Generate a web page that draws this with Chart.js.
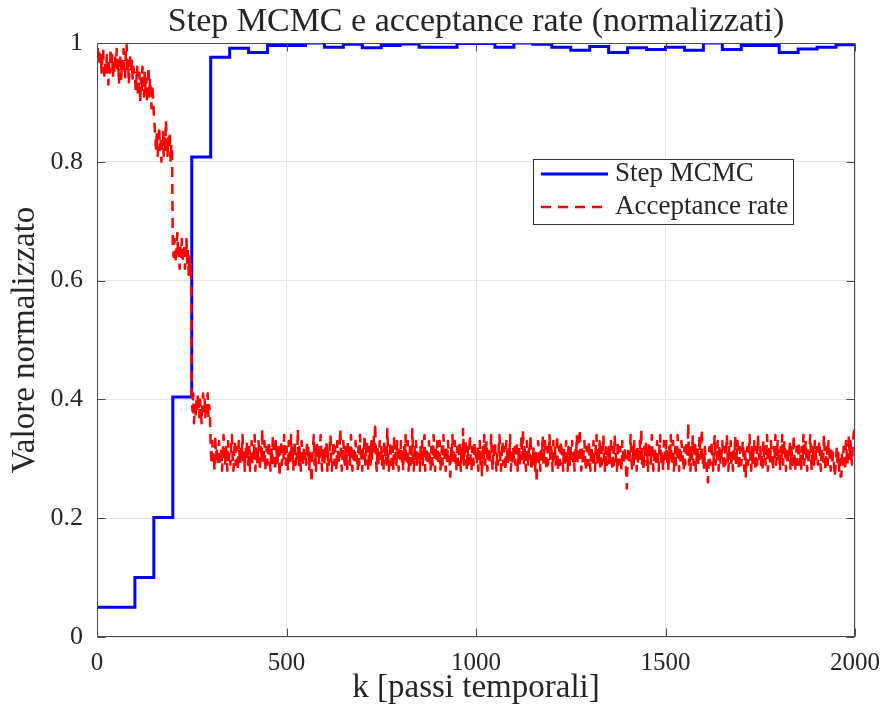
<!DOCTYPE html>
<html>
<head>
<meta charset="utf-8">
<script src="https://cdn.jsdelivr.net/npm/chart.js@4.4.1/dist/chart.umd.min.js"></script>
<style>
  html, body { margin: 0; padding: 0; background: #ffffff; }
  canvas { display: block; }
</style>
</head>
<body>
<canvas id="c" width="884" height="718"></canvas>
<script>
// ---------------- data ----------------
const chartTitle = 'Step MCMC e acceptance rate (normalizzati)';
const xAxisTitle = 'k [passi temporali]';
const yAxisTitle = 'Valore normalizzato';
const seriesNames = ['Step MCMC', 'Acceptance rate'];
const xTickLabels = ['0', '500', '1000', '1500', '2000'];
const yTickLabels = ['0', '0.2', '0.4', '0.6', '0.8', '1'];
const kMax = 2000;

// normalized MCMC step, one value per block of 50 time steps
const stepBlockLength = 50;
const stepValues = [
  0.05, 0.05, 0.1, 0.201, 0.404, 0.808, 0.976, 0.991, 0.984, 0.996,
  0.996, 1.0, 0.993, 0.998, 0.992, 0.996, 0.9985, 0.993, 0.993, 0.999,
  0.999, 0.993, 1.0, 0.998, 0.993, 0.988, 0.994, 0.984, 0.992, 0.989,
  0.993, 0.988, 1.0, 0.989, 0.996, 0.996, 0.984, 0.990, 0.993, 0.997
];

// normalized acceptance rate, read every 2 time steps (25 readings per row = 50 steps)
const acceptSampleEvery = 2;
const acceptanceRate = [
  0.98,0.99,0.97,0.99,0.96,0.98,0.95,0.97,0.99,0.96,0.94,0.97,0.95,0.98,0.96,0.93,0.97,0.95,0.99,0.96,0.98,0.94,0.97,0.95,0.98,
  0.96,0.99,0.95,0.97,0.93,0.96,0.98,0.94,0.97,0.95,0.99,0.96,0.94,0.98,1.00,0.95,0.97,0.93,0.96,0.98,0.95,0.97,0.94,0.96,0.95,
  0.95,0.92,0.94,0.96,0.91,0.93,0.95,0.90,0.94,0.92,0.96,0.93,0.91,0.95,0.92,0.94,0.90,0.93,0.96,0.91,0.94,0.92,0.89,0.93,0.91,
  0.88,0.86,0.84,0.82,0.85,0.81,0.83,0.86,0.82,0.84,0.80,0.83,0.85,0.81,0.84,0.82,0.87,0.83,0.81,0.84,0.82,0.85,0.80,0.83,0.82,
  0.66,0.64,0.67,0.65,0.63,0.66,0.68,0.64,0.65,0.62,0.66,0.64,0.67,0.63,0.65,0.66,0.62,0.64,0.67,0.63,0.65,0.61,0.64,0.62,0.63,
  0.40,0.38,0.41,0.36,0.39,0.37,0.40,0.38,0.41,0.39,0.37,0.40,0.38,0.36,0.39,0.41,0.38,0.40,0.37,0.39,0.38,0.41,0.37,0.39,0.38,
  0.32,0.29,0.33,0.30,0.31,0.28,0.34,0.30,0.32,0.29,0.31,0.33,0.29,0.30,0.32,0.28,0.31,0.34,0.30,0.29,0.32,0.31,0.28,0.33,0.30,
  0.31,0.29,0.32,0.34,0.30,0.28,0.31,0.33,0.29,0.32,0.30,0.28,0.33,0.31,0.29,0.32,0.30,0.34,0.29,0.31,0.28,0.32,0.30,0.33,0.29,
  0.30,0.32,0.28,0.31,0.33,0.29,0.31,0.30,0.34,0.28,0.32,0.30,0.29,0.33,0.31,0.28,0.32,0.30,0.35,0.29,0.31,0.33,0.28,0.30,0.32,
  0.29,0.31,0.33,0.30,0.28,0.32,0.29,0.34,0.31,0.30,0.28,0.33,0.31,0.29,0.32,0.30,0.27,0.31,0.33,0.29,0.32,0.30,0.34,0.31,0.29,
  0.32,0.30,0.28,0.33,0.31,0.29,0.34,0.30,0.32,0.28,0.31,0.33,0.29,0.31,0.30,0.35,0.29,0.32,0.30,0.28,0.33,0.31,0.29,0.32,0.30,
  0.31,0.29,0.33,0.30,0.32,0.28,0.31,0.29,0.26,0.30,0.32,0.34,0.29,0.31,0.28,0.33,0.30,0.32,0.29,0.31,0.34,0.30,0.28,0.32,0.31,
  0.29,0.32,0.30,0.33,0.28,0.31,0.29,0.32,0.34,0.30,0.28,0.31,0.33,0.29,0.32,0.30,0.28,0.33,0.31,0.29,0.32,0.35,0.30,0.28,0.31,
  0.33,0.30,0.29,0.32,0.31,0.28,0.33,0.30,0.32,0.29,0.34,0.31,0.28,0.30,0.32,0.29,0.33,0.31,0.30,0.28,0.32,0.29,0.34,0.31,0.30,
  0.28,0.32,0.30,0.34,0.29,0.31,0.33,0.30,0.28,0.32,0.31,0.29,0.33,0.30,0.32,0.34,0.31,0.36,0.30,0.28,0.32,0.29,0.31,0.33,0.30,
  0.32,0.29,0.31,0.28,0.33,0.30,0.32,0.29,0.35,0.31,0.28,0.30,0.33,0.29,0.31,0.32,0.28,0.34,0.30,0.31,0.29,0.33,0.30,0.28,0.32,
  0.30,0.33,0.29,0.31,0.28,0.32,0.30,0.34,0.29,0.31,0.33,0.28,0.30,0.32,0.29,0.31,0.35,0.30,0.28,0.32,0.30,0.33,0.29,0.31,0.30,
  0.31,0.28,0.32,0.30,0.33,0.29,0.31,0.34,0.28,0.30,0.32,0.29,0.31,0.33,0.30,0.28,0.32,0.30,0.29,0.34,0.31,0.28,0.32,0.30,0.33,
  0.29,0.31,0.33,0.28,0.30,0.32,0.29,0.34,0.31,0.30,0.28,0.32,0.29,0.33,0.31,0.30,0.27,0.32,0.30,0.34,0.29,0.31,0.33,0.30,0.28,
  0.32,0.30,0.29,0.33,0.31,0.28,0.32,0.30,0.35,0.29,0.31,0.33,0.30,0.28,0.32,0.29,0.31,0.34,0.30,0.28,0.32,0.31,0.29,0.33,0.30,
  0.31,0.29,0.32,0.28,0.30,0.33,0.29,0.31,0.27,0.32,0.30,0.34,0.29,0.31,0.33,0.28,0.30,0.32,0.29,0.31,0.34,0.30,0.28,0.32,0.30,
  0.33,0.30,0.28,0.31,0.29,0.32,0.34,0.30,0.28,0.31,0.33,0.29,0.32,0.30,0.28,0.33,0.31,0.29,0.32,0.30,0.34,0.28,0.31,0.29,0.32,
  0.30,0.32,0.29,0.31,0.33,0.28,0.30,0.32,0.29,0.31,0.34,0.30,0.35,0.29,0.32,0.30,0.28,0.33,0.31,0.29,0.32,0.30,0.34,0.28,0.31,
  0.29,0.32,0.30,0.28,0.31,0.26,0.30,0.33,0.29,0.31,0.28,0.32,0.30,0.34,0.29,0.31,0.33,0.30,0.28,0.32,0.29,0.31,0.34,0.30,0.32,
  0.31,0.28,0.33,0.30,0.32,0.29,0.31,0.34,0.28,0.30,0.32,0.29,0.33,0.31,0.30,0.28,0.32,0.29,0.31,0.33,0.30,0.28,0.32,0.30,0.29,
  0.32,0.30,0.33,0.29,0.31,0.28,0.32,0.30,0.34,0.29,0.31,0.33,0.35,0.30,0.28,0.32,0.29,0.31,0.33,0.30,0.28,0.32,0.31,0.29,0.33,
  0.30,0.28,0.32,0.31,0.29,0.33,0.30,0.28,0.32,0.34,0.29,0.31,0.30,0.33,0.28,0.32,0.29,0.31,0.34,0.30,0.28,0.32,0.30,0.29,0.31,
  0.32,0.29,0.31,0.33,0.30,0.28,0.32,0.29,0.34,0.31,0.30,0.28,0.33,0.29,0.31,0.32,0.30,0.28,0.33,0.31,0.29,0.32,0.30,0.28,0.25,
  0.30,0.32,0.29,0.31,0.34,0.30,0.28,0.32,0.29,0.33,0.31,0.30,0.28,0.32,0.29,0.31,0.33,0.30,0.35,0.29,0.31,0.28,0.32,0.30,0.33,
  0.29,0.31,0.28,0.33,0.30,0.32,0.29,0.34,0.31,0.28,0.30,0.32,0.29,0.31,0.33,0.30,0.28,0.32,0.34,0.29,0.31,0.30,0.28,0.33,0.31,
  0.30,0.33,0.29,0.31,0.28,0.32,0.30,0.34,0.29,0.31,0.33,0.28,0.30,0.32,0.29,0.31,0.34,0.30,0.28,0.32,0.29,0.33,0.31,0.30,0.28,
  0.32,0.29,0.31,0.33,0.30,0.36,0.29,0.31,0.28,0.32,0.30,0.34,0.29,0.31,0.33,0.28,0.30,0.32,0.29,0.31,0.34,0.30,0.32,0.35,0.29,
  0.31,0.28,0.32,0.30,0.29,0.27,0.26,0.30,0.32,0.29,0.31,0.33,0.30,0.28,0.32,0.34,0.29,0.31,0.30,0.33,0.28,0.32,0.30,0.29,0.31,
  0.33,0.30,0.28,0.32,0.29,0.31,0.34,0.30,0.28,0.32,0.30,0.33,0.29,0.31,0.28,0.32,0.30,0.34,0.29,0.31,0.33,0.30,0.28,0.32,0.30,
  0.29,0.31,0.33,0.30,0.28,0.32,0.27,0.30,0.32,0.29,0.31,0.34,0.30,0.28,0.32,0.29,0.31,0.33,0.30,0.28,0.32,0.29,0.34,0.31,0.30,
  0.32,0.29,0.31,0.28,0.33,0.30,0.32,0.29,0.31,0.34,0.28,0.30,0.32,0.29,0.33,0.31,0.30,0.28,0.32,0.30,0.34,0.29,0.31,0.33,0.30,
  0.31,0.28,0.32,0.30,0.34,0.29,0.31,0.33,0.30,0.28,0.32,0.29,0.31,0.30,0.33,0.28,0.32,0.30,0.29,0.34,0.31,0.28,0.30,0.32,0.29,
  0.30,0.33,0.29,0.31,0.28,0.32,0.30,0.34,0.29,0.31,0.33,0.30,0.28,0.32,0.29,0.31,0.34,0.30,0.28,0.32,0.30,0.29,0.33,0.31,0.30,
  0.32,0.29,0.31,0.33,0.30,0.28,0.32,0.30,0.29,0.34,0.31,0.28,0.30,0.32,0.29,0.33,0.31,0.30,0.28,0.32,0.29,0.31,0.30,0.27,0.28,
  0.30,0.32,0.29,0.31,0.28,0.30,0.27,0.27,0.31,0.29,0.32,0.30,0.28,0.33,0.31,0.29,0.32,0.34,0.30,0.33,0.31,0.29,0.32,0.34,0.35
];

// ---------------- build library tables ----------------
const stepPoints = stepValues.map((v, i) => ({ x: i * stepBlockLength, y: v }));
stepPoints.push({ x: kMax, y: stepValues[stepValues.length - 1] });
const acceptPoints = acceptanceRate.map((v, i) => ({ x: i * acceptSampleEvery, y: v }));

const FONT = "'Liberation Serif', 'Times New Roman', serif";
const TEXT = '#262626';
const AXIS = '#4a4a4a';

const framePlugin = {
  id: 'frame',
  afterDatasetsDraw(chart) {
    const { ctx, chartArea: a, scales } = chart;
    ctx.save();
    ctx.strokeStyle = AXIS;
    ctx.lineWidth = 1;
    const L = Math.round(a.left) + 0.5, R = Math.round(a.right) - 0.5;
    const T = Math.round(a.top) + 0.5, B = Math.round(a.bottom) - 0.5;
    ctx.beginPath();
    ctx.rect(L, T, R - L, B - T);
    ctx.stroke();
    const tl = 8;
    ctx.beginPath();
    scales.x.ticks.forEach(t => {
      const px = Math.round(scales.x.getPixelForValue(t.value)) + 0.5;
      ctx.moveTo(px, B); ctx.lineTo(px, B - tl);
      ctx.moveTo(px, T); ctx.lineTo(px, T + tl);
    });
    scales.y.ticks.forEach(t => {
      const py = Math.round(scales.y.getPixelForValue(t.value)) + 0.5;
      ctx.moveTo(L, py); ctx.lineTo(L + tl, py);
      ctx.moveTo(R, py); ctx.lineTo(R - tl, py);
    });
    ctx.stroke();
    ctx.restore();
  },
  afterDraw(chart) {
    const { ctx, chartArea: a } = chart;
    ctx.save();
    // title
    ctx.fillStyle = TEXT;
    ctx.font = '34px ' + FONT;
    ctx.textAlign = 'center';
    ctx.textBaseline = 'alphabetic';
    ctx.fillText(chartTitle, (a.left + a.right) / 2, 31);
    // legend
    const bx = 533, by = 159, bw = 260, bh = 65;
    ctx.fillStyle = '#ffffff';
    ctx.fillRect(bx, by, bw, bh);
    ctx.strokeStyle = '#333333';
    ctx.lineWidth = 1;
    ctx.strokeRect(bx + 0.5, by + 0.5, bw, bh);
    chart.data.datasets.forEach((ds, i) => {
      const y = 174 + i * 33;
      ctx.save();
      ctx.strokeStyle = ds.borderColor;
      ctx.lineWidth = ds.borderWidth;
      ctx.setLineDash(ds.borderDash || []);
      ctx.beginPath();
      ctx.moveTo(541, y); ctx.lineTo(608, y);
      ctx.stroke();
      ctx.restore();
      ctx.fillStyle = TEXT;
      ctx.font = '27px ' + FONT;
      ctx.textAlign = 'left';
      ctx.textBaseline = 'middle';
      ctx.fillText(ds.label, 615, y);
    });
    ctx.restore();
  }
};

new Chart(document.getElementById('c'), {
  type: 'line',
  data: {
    datasets: [
      {
        label: seriesNames[0],
        data: stepPoints,
        borderColor: '#0000ff',
        borderWidth: 3,
        pointRadius: 0,
        stepped: 'before',
        fill: false,
        order: 2
      },
      {
        label: seriesNames[1],
        data: acceptPoints,
        borderColor: '#ff0000',
        borderWidth: 2.5,
        borderDash: [10, 7],
        borderJoinStyle: 'round',
        pointRadius: 0,
        tension: 0,
        fill: false,
        order: 1
      }
    ]
  },
  options: {
    responsive: false,
    animation: false,
    devicePixelRatio: 1,
    layout: { padding: { top: 43, right: 29, left: 0, bottom: 0 } },
    plugins: {
      legend: { display: false },
      title: { display: false },
      tooltip: { enabled: false }
    },
    scales: {
      x: {
        type: 'linear',
        min: 0,
        max: kMax,
        afterBuildTicks: s => { s.ticks = xTickLabels.map(l => ({ value: Number(l) })); },
        afterFit: s => { s.height = 81; s.paddingRight = 0; s.paddingLeft = 0; },
        grid: { color: '#e4e4e4', lineWidth: 1, drawTicks: false },
        border: { display: false },
        ticks: {
          callback: (v, i) => xTickLabels[i],
          font: { family: FONT, size: 25 },
          color: TEXT,
          padding: 11,
          maxRotation: 0
        },
        title: {
          display: true,
          text: xAxisTitle,
          font: { family: FONT, size: 33 },
          color: TEXT,
          padding: { top: 0, bottom: 10 }
        }
      },
      y: {
        type: 'linear',
        min: 0,
        max: 1,
        afterBuildTicks: s => { s.ticks = yTickLabels.map(l => ({ value: Number(l) })); },
        afterFit: s => { s.width = 97; s.paddingTop = 0; s.paddingBottom = 0; },
        grid: { color: '#e4e4e4', lineWidth: 1, drawTicks: false },
        border: { display: false },
        ticks: {
          callback: (v, i) => yTickLabels[i],
          font: { family: FONT, size: 26 },
          color: TEXT,
          padding: 14
        },
        title: {
          display: true,
          text: yAxisTitle,
          font: { family: FONT, size: 33 },
          color: TEXT,
          padding: { top: 6, bottom: 0 }
        }
      }
    }
  },
  plugins: [framePlugin]
});
</script>
</body>
</html>
